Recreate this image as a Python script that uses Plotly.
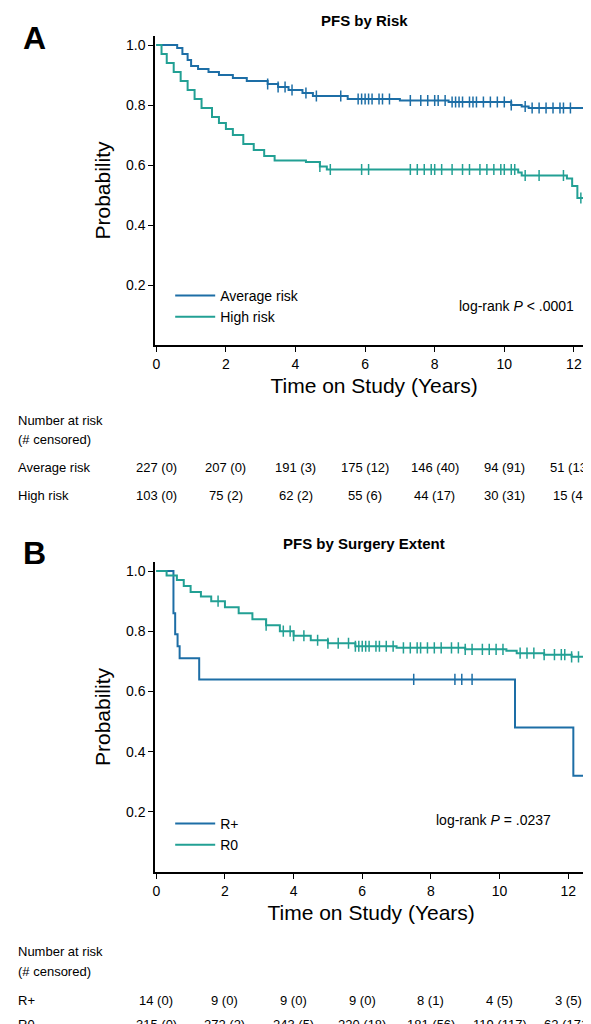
import numpy as np
import plotly.graph_objects as go

BLUE = "#1d6ea6"
TEAL = "#22a094"

# Panel A: PFS by Risk (step curves, time in years)
avg_t = [0, 0.6, 0.75, 0.9, 1.0, 1.2, 1.5, 1.8, 2.2, 2.6, 3.2, 3.5, 3.8, 4.2, 4.5, 5.5, 7.0, 8.4, 10.2, 10.5, 10.7, 12.5]
avg_s = [1.0, 0.99, 0.97, 0.95, 0.93, 0.92, 0.91, 0.90, 0.89, 0.88, 0.87, 0.86, 0.85, 0.84, 0.83, 0.82, 0.815, 0.81, 0.80, 0.795, 0.79, 0.79]
avg_cens = [3.2, 3.5, 3.7, 3.9, 4.3, 4.6, 5.3, 5.8, 5.9, 6.0, 6.1, 6.2, 6.4, 6.5, 6.7, 7.3, 7.6, 7.8, 8.0, 8.1, 8.3, 8.5, 8.6, 8.7, 8.8,
            9.0, 9.1, 9.2, 9.4, 9.6, 9.8, 10.0, 10.2, 10.6, 10.8, 11.0, 11.2, 11.4, 11.6, 11.7, 11.9, 12.5]
high_t = [0, 0.15, 0.3, 0.5, 0.7, 0.9, 1.1, 1.3, 1.6, 1.8, 2.0, 2.2, 2.5, 2.8, 3.1, 3.4, 4.3, 4.7, 4.9, 10.4, 10.5, 11.8, 11.95, 12.1, 12.5]
high_s = [1.0, 0.97, 0.94, 0.91, 0.88, 0.85, 0.82, 0.79, 0.76, 0.74, 0.72, 0.70, 0.67, 0.65, 0.63, 0.615, 0.61, 0.595, 0.585, 0.575, 0.565, 0.555, 0.53, 0.49, 0.49]
high_cens = [4.7, 5.0, 5.9, 6.1, 7.3, 7.5, 7.7, 7.9, 8.0, 8.2, 8.5, 8.8, 9.0, 9.3, 9.5, 9.7, 9.9, 10.0, 10.2, 10.3, 10.6, 11.0, 11.7, 12.2, 12.5]

# Panel B: PFS by Surgery Extent
rp_t = [0, 0.5, 0.55, 0.62, 0.68, 1.25, 10.45, 12.15, 12.5]
rp_s = [1.0, 0.86, 0.79, 0.75, 0.71, 0.64, 0.48, 0.32, 0.32]
rp_cens = [7.5, 8.7, 8.9, 9.2, 12.5]
r0_t = [0, 0.3, 0.6, 0.8, 1.0, 1.3, 1.6, 2.0, 2.4, 2.8, 3.2, 3.6, 4.0, 4.5, 5.0, 5.8, 7.0, 9.0, 10.2, 10.5, 11.3, 12.1, 12.5]
r0_s = [1.0, 0.985, 0.97, 0.95, 0.93, 0.915, 0.90, 0.88, 0.86, 0.84, 0.82, 0.80, 0.785, 0.77, 0.76, 0.75, 0.745, 0.74, 0.735, 0.727, 0.722, 0.715, 0.715]
r0_cens = [1.8, 3.2, 3.7, 3.9, 4.0, 4.3, 4.7, 5.0, 5.3, 5.6, 5.8, 5.9, 6.0, 6.1, 6.2, 6.4, 6.5, 6.7, 6.9, 7.2, 7.4, 7.6, 7.7,
           7.9, 8.1, 8.3, 8.6, 8.8, 9.0, 9.2, 9.5, 9.7, 9.9, 10.1, 10.6, 10.8, 11.0, 11.3, 11.6, 11.8, 11.9, 12.1, 12.3, 12.5]

risk_times = [0, 2, 4, 6, 8, 10, 12]
risk_a = {"Average risk": ["227 (0)", "207 (0)", "191 (3)", "175 (12)", "146 (40)", "94 (91)", "51 (132)"],
          "High risk": ["103 (0)", "75 (2)", "62 (2)", "55 (6)", "44 (17)", "30 (31)", "15 (44)"]}
risk_b = {"R+": ["14 (0)", "9 (0)", "9 (0)", "9 (0)", "8 (1)", "4 (5)", "3 (5)"],
          "R0": ["315 (0)", "272 (2)", "243 (5)", "220 (18)", "181 (56)", "119 (117)", "62 (171)"]}

FONT = "Liberation Sans"
NARROW = "Liberation Sans Narrow, Liberation Sans"
H = 1024


def surv_at(t, s, c):
    idx = np.searchsorted(np.array(t), np.array(c), side="right") - 1
    return [s[i] for i in idx]


fig = go.Figure()


def add_curve(t, s, cens, color, name, xa, ya, legend):
    fig.add_trace(go.Scatter(x=t, y=s, mode="lines", line=dict(color=color, width=2, shape="hv"),
                             name=name, xaxis=xa, yaxis=ya, legend=legend))
    fig.add_trace(go.Scatter(x=cens, y=surv_at(t, s, cens), mode="markers", showlegend=False,
                             marker=dict(symbol="line-ns", size=8, line=dict(color=color, width=1.5)),
                             xaxis=xa, yaxis=ya, hoverinfo="skip"))


add_curve(avg_t, avg_s, avg_cens, BLUE, "Average risk", "x", "y", "legend")
add_curve(high_t, high_s, high_cens, TEAL, "High risk", "x", "y", "legend")
add_curve(rp_t, rp_s, rp_cens, BLUE, "R+", "x2", "y2", "legend2")
add_curve(r0_t, r0_s, r0_cens, TEAL, "R0", "x2", "y2", "legend2")

axis_common = dict(showline=True, linecolor="black", linewidth=2, ticks="outside", tickcolor="black",
                   ticklen=5, showgrid=False, zeroline=False, tickfont=dict(family=FONT, size=14, color="black"))
title_font = dict(family=NARROW, size=21, color="black")

fig.update_layout(
    width=591, height=1024, margin=dict(l=0, r=0, t=0, b=0),
    plot_bgcolor="white", paper_bgcolor="white",
    xaxis=dict(axis_common, range=[-0.03, 12.55], domain=[145 / 591, 585 / 591], anchor="y",
               tickvals=risk_times, title=dict(text="Time on Study (Years)", font=title_font, standoff=8)),
    yaxis=dict(axis_common, range=[0, 1.03], domain=[1 - 337 / H, 1 - 28 / H], anchor="x",
               tickvals=[0.2, 0.4, 0.6, 0.8, 1.0], tickformat=".1f",
               title=dict(text="Probability", font=title_font, standoff=10)),
    xaxis2=dict(axis_common, range=[-0.03, 12.55], domain=[145 / 591, 579 / 591], anchor="y2",
                tickvals=risk_times, title=dict(text="Time on Study (Years)", font=title_font, standoff=8)),
    yaxis2=dict(axis_common, range=[0, 1.03], domain=[1 - 864 / H, 1 - 554 / H], anchor="x2",
                tickvals=[0.2, 0.4, 0.6, 0.8, 1.0], tickformat=".1f",
                title=dict(text="Probability", font=title_font, standoff=10)),
    legend=dict(x=160 / 591, y=1 - 272 / H, xanchor="left", yanchor="top", bgcolor="rgba(0,0,0,0)",
                font=dict(family=FONT, size=14, color="black"), itemwidth=40),
    legend2=dict(x=160 / 591, y=1 - 800 / H, xanchor="left", yanchor="top", bgcolor="rgba(0,0,0,0)",
                 font=dict(family=FONT, size=14, color="black"), itemwidth=40),
)

ann = []


def txt(x, y, text, size=13, bold=False, xanchor="left", xref="paper"):
    t = f"<b>{text}</b>" if bold else text
    ann.append(dict(x=x, y=y, xref=xref, yref="paper", text=t, showarrow=False, xanchor=xanchor,
                    yanchor="middle", font=dict(family=FONT, size=size, color="black")))


txt(10 / 591, 1 - 30 / H, "A", size=32, bold=True)
txt(10 / 591, 1 - 545 / H, "B", size=32, bold=True)
txt(355 / 591, 1 - 12 / H, "PFS by Risk", size=15, bold=True, xanchor="center")
txt(355 / 591, 1 - 535 / H, "PFS by Surgery Extent", size=15, bold=True, xanchor="center")
txt(568 / 591, 1 - 298 / H, "log-rank <i>P</i> < .0001", size=14, xanchor="right")
txt(545 / 591, 1 - 812 / H, "log-rank <i>P</i> = .0237", size=14, xanchor="right")

txt(5 / 591, 1 - 412 / H, "Number at risk")
txt(5 / 591, 1 - 431 / H, "(# censored)")
for (label, vals), ypx in zip(risk_a.items(), [459, 487]):
    txt(5 / 591, 1 - ypx / H, label)
    for t, v in zip(risk_times, vals):
        txt(t, 1 - ypx / H, v, xanchor="center", xref="x")

txt(5 / 591, 1 - 943 / H, "Number at risk")
txt(5 / 591, 1 - 963 / H, "(# censored)")
for (label, vals), ypx in zip(risk_b.items(), [992, 1016]):
    txt(5 / 591, 1 - ypx / H, label)
    for t, v in zip(risk_times, vals):
        txt(t, 1 - ypx / H, v, xanchor="center", xref="x2")

fig.update_layout(annotations=ann)
fig.write_html("out.html")
